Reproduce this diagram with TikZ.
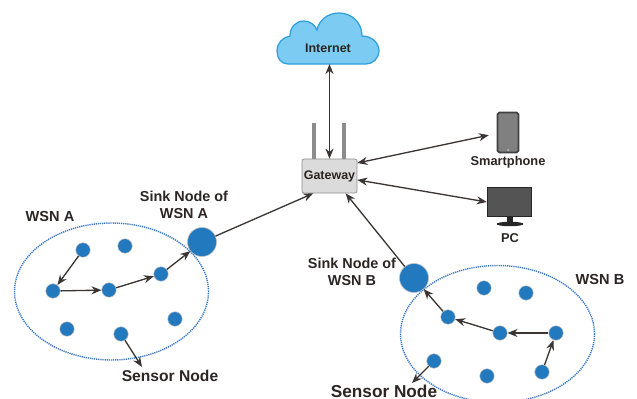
\documentclass[tikz,border=0pt]{standalone}
\usepackage{fontspec}
\setmainfont{Liberation Sans}
\usetikzlibrary{arrows.meta}
\usetikzlibrary{shapes.geometric}
\definecolor{nodeblue}{HTML}{2379BE}
\definecolor{fieldblue}{HTML}{3B78C4}
\definecolor{cloudfill}{HTML}{7CCBF2}
\definecolor{cloudline}{HTML}{2E9FD9}
\definecolor{inkdark}{HTML}{2B2523}
\definecolor{linkdark}{HTML}{3A3533}
\tikzset{
	sensor/.style={shape=circle,fill=nodeblue,draw=black!25,line width=0.3pt,minimum size=0.29cm,inner sep=0pt},
	sink/.style={shape=circle,fill=nodeblue,draw=black!25,line width=0.3pt,minimum size=0.58cm,inner sep=0pt},
	field/.style={shape=ellipse,draw=fieldblue,dash pattern=on 0.7pt off 0.5pt,line width=0.8pt,minimum width=3.88cm,minimum height=2.74cm},
	link/.style={draw=linkdark,line width=0.75pt,-{Stealth[length=2mm,width=1.6mm]}},
	biglink/.style={draw=linkdark,line width=0.75pt,{Stealth[length=2mm,width=1.6mm]}-{Stealth[length=2mm,width=1.6mm]}},
	label/.style={text=inkdark,align=center,font=\fontsize{#1}{#1}\selectfont\bfseries,inner sep=0pt},
}
\newcommand{\drawsensors}[2]{
	\foreach \i/\x/\y in {#2} \node[sensor] (#1\i) at (\x,\y) {};
}
\begin{document}
\begin{tikzpicture}[x=0.02cm,y=-0.02cm]
	\useasboundingbox (0,0) rectangle (637,399);
	\node[field] (wsna) at (111.5,291.5) {};
	\node[field] (wsnb) at (497.5,334) {};
	\drawsensors{a}{1/83/250,2/125/246,3/53/291,4/109/290,5/161/274,6/175/319,7/67/329,8/121/334}
	\drawsensors{b}{1/484/288,2/526/293,3/448/317,4/500/333,5/556/333,6/434/361,7/487/376,8/542/372}
	\node[sink] (sinka) at (202,242) {};
	\node[sink] (sinkb) at (414,278) {};
	\draw[fill=cloudfill,draw=cloudline,line width=0.7pt] (288,64) .. controls (281,64) and (277,58) .. (277,51) .. controls (277,43) and (283,37) .. (290,36) .. controls (290,27) and (296,21) .. (304,21) .. controls (310,21) and (315,25) .. (317,30) .. controls (319,20) and (328,13) .. (339,13) .. controls (352,13) and (362,23) .. (362,36) .. controls (372,36) and (379,43) .. (379,51) .. controls (379,58) and (373,64) .. (366,64) -- cycle;
	\node[label=7.1] (internet) at (328,48) {Internet};
	\coordinate (cloudfoot) at (329.5,64);
	\foreach \x in {314,344} \draw[draw=black!45,line width=2pt] (\x,159) -- (\x,123);
	\node[shape=rectangle,rounded corners=1.2pt,fill=black!14,draw=black!45,line width=0.4pt,minimum width=1.1cm,minimum height=0.68cm,inner sep=0pt] (gw) at (329.5,176) {};
	\node[label=7.1] (gwtext) at (329.5,176) {Gateway};
	\node[shape=rectangle,rounded corners=1pt,fill=black!50,draw=black!75,line width=1pt,minimum width=0.42cm,minimum height=0.8cm,inner sep=0pt] (phone) at (508,132.5) {};
	\node[shape=circle,fill=white,minimum size=0.03cm,inner sep=0pt] (phonekey) at (508,150) {};
	\node[label=7.3] (phonetext) at (508,162) {Smartphone};
	\node[shape=rectangle,fill=black!67,draw=black!85,line width=0.8pt,minimum width=0.88cm,minimum height=0.58cm,inner sep=0pt] (pc) at (509.5,202) {};
	\draw[fill=black!85,draw=none] (507,217) rectangle (513,223);
	\node[shape=ellipse,fill=black!85,minimum width=0.54cm,minimum height=0.09cm,inner sep=0pt] (pcbase) at (510,224) {};
	\node[label=7.3] (pctext) at (510,238) {PC};
	\node[label=8.3] (wsnatext) at (50,216) {WSN A};
	\node[label=8.3] (wsnbtext) at (600,279) {WSN B};
	\node[label=8.2] (sinkatext) at (184,205) {Sink Node of\\[1.5pt]WSN A};
	\node[label=8.2] (sinkbtext) at (352,272) {Sink Node of\\[1.5pt]WSN B};
	\node[label=8.9] (sensoratext) at (170,376) {Sensor Node};
	\node[label=9.8] (sensorbtext) at (384,391) {Sensor Node};
	\coordinate (sensorafoot) at (142,367);
	\coordinate (sensorbfoot) at (412,383);
	\draw[biglink] (cloudfoot) -- (gw.north);
	\draw[biglink,shorten >=1.6mm] (gw.25) -- (phone.185);
	\draw[biglink] (gw.-8) -- (pc.west);
	\draw[link] (sinka) -- (gw.227);
	\draw[link] (sinkb) -- (gw.313);
	\foreach \i/\j in {1/3,3/4,4/5} \draw[link] (a\i) -- (a\j);
	\draw[link] (a5) -- (sinka);
	\draw[link] (a8) -- (sensorafoot);
	\foreach \i/\j in {5/4,4/3} \draw[link] (b\i) -- (b\j);
	\draw[link] (b3) -- (sinkb);
	\draw[link] (b8) -- (b5);
	\draw[link] (b6) -- (sensorbfoot);
\end{tikzpicture}
\end{document}
